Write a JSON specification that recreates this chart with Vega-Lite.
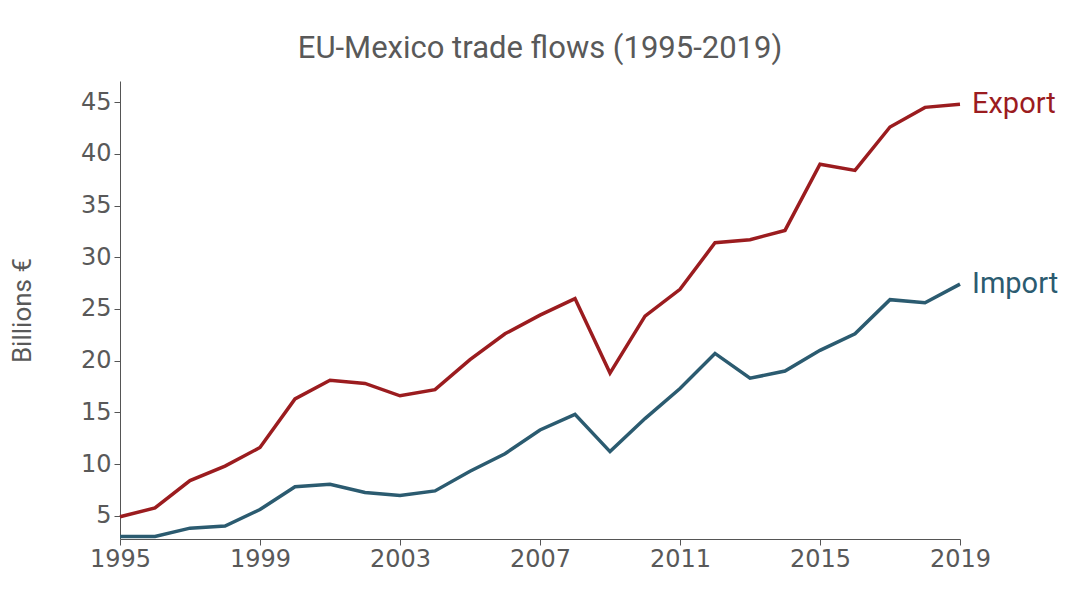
{
  "$schema": "https://vega.github.io/schema/vega-lite/v6.json",
  "autosize": "none",
  "width": 840,
  "height": 458,
  "padding": {"left": 120, "top": 81, "right": 120, "bottom": 62},
  "background": "white",
  "title": {
    "text": "EU-Mexico trade flows (1995-2019)",
    "font": "Roboto",
    "fontSize": 31,
    "fontWeight": "normal",
    "color": "#595959",
    "offset": 16,
    "anchor": "middle"
  },
  "config": {
    "view": {"stroke": null},
    "axis": {
      "labelFont": "DejaVu Sans",
      "labelFontSize": 24,
      "labelColor": "#595959",
      "domainColor": "#555555",
      "tickColor": "#555555",
      "grid": false,
      "titleFont": "Roboto",
      "titleFontSize": 26,
      "titleFontWeight": "normal",
      "titleColor": "#595959"
    }
  },
  "data": {
    "values": [
      {"year": 1995, "flow": "Export", "value": 4.9},
      {"year": 1996, "flow": "Export", "value": 5.75},
      {"year": 1997, "flow": "Export", "value": 8.4},
      {"year": 1998, "flow": "Export", "value": 9.8},
      {"year": 1999, "flow": "Export", "value": 11.6},
      {"year": 2000, "flow": "Export", "value": 16.3},
      {"year": 2001, "flow": "Export", "value": 18.1},
      {"year": 2002, "flow": "Export", "value": 17.8},
      {"year": 2003, "flow": "Export", "value": 16.6},
      {"year": 2004, "flow": "Export", "value": 17.2},
      {"year": 2005, "flow": "Export", "value": 20.1},
      {"year": 2006, "flow": "Export", "value": 22.6},
      {"year": 2007, "flow": "Export", "value": 24.4},
      {"year": 2008, "flow": "Export", "value": 26.0},
      {"year": 2009, "flow": "Export", "value": 18.8},
      {"year": 2010, "flow": "Export", "value": 24.3},
      {"year": 2011, "flow": "Export", "value": 26.9},
      {"year": 2012, "flow": "Export", "value": 31.4},
      {"year": 2013, "flow": "Export", "value": 31.7},
      {"year": 2014, "flow": "Export", "value": 32.6},
      {"year": 2015, "flow": "Export", "value": 39.0},
      {"year": 2016, "flow": "Export", "value": 38.4},
      {"year": 2017, "flow": "Export", "value": 42.6},
      {"year": 2018, "flow": "Export", "value": 44.5},
      {"year": 2019, "flow": "Export", "value": 44.8},
      {"year": 1995, "flow": "Import", "value": 3.0},
      {"year": 1996, "flow": "Import", "value": 3.0},
      {"year": 1997, "flow": "Import", "value": 3.8},
      {"year": 1998, "flow": "Import", "value": 4.0},
      {"year": 1999, "flow": "Import", "value": 5.6},
      {"year": 2000, "flow": "Import", "value": 7.8},
      {"year": 2001, "flow": "Import", "value": 8.05},
      {"year": 2002, "flow": "Import", "value": 7.25},
      {"year": 2003, "flow": "Import", "value": 6.97},
      {"year": 2004, "flow": "Import", "value": 7.4},
      {"year": 2005, "flow": "Import", "value": 9.3},
      {"year": 2006, "flow": "Import", "value": 11.0},
      {"year": 2007, "flow": "Import", "value": 13.3},
      {"year": 2008, "flow": "Import", "value": 14.8},
      {"year": 2009, "flow": "Import", "value": 11.2},
      {"year": 2010, "flow": "Import", "value": 14.4},
      {"year": 2011, "flow": "Import", "value": 17.3},
      {"year": 2012, "flow": "Import", "value": 20.7},
      {"year": 2013, "flow": "Import", "value": 18.3},
      {"year": 2014, "flow": "Import", "value": 19.0},
      {"year": 2015, "flow": "Import", "value": 21.0},
      {"year": 2016, "flow": "Import", "value": 22.6},
      {"year": 2017, "flow": "Import", "value": 25.9},
      {"year": 2018, "flow": "Import", "value": 25.6},
      {"year": 2019, "flow": "Import", "value": 27.4}
    ]
  },
  "encoding": {
    "x": {
      "field": "year",
      "type": "quantitative",
      "scale": {"domain": [1995, 2019], "nice": false, "zero": false},
      "axis": {
        "values": [1995, 1999, 2003, 2007, 2011, 2015, 2019],
        "format": "d",
        "title": null,
        "tickSize": 6,
        "labelPadding": 2,
        "labelFlush": false
      }
    },
    "y": {
      "field": "value",
      "type": "quantitative",
      "scale": {"domain": [2.75, 47.05], "nice": false, "zero": false},
      "axis": {
        "values": [5, 10, 15, 20, 25, 30, 35, 40, 45],
        "title": "Billions €",
        "tickSize": 6,
        "labelPadding": 3,
        "titlePadding": 45
      }
    },
    "color": {
      "field": "flow",
      "type": "nominal",
      "scale": {"domain": ["Export", "Import"], "range": ["#9b1c1f", "#2b5b70"]},
      "legend": null
    }
  },
  "layer": [
    {"mark": {"type": "line", "strokeWidth": 3.5, "clip": false}},
    {
      "transform": [{"filter": "datum.year == 2019"}],
      "mark": {"type": "text", "align": "left", "baseline": "middle", "dx": 12, "font": "Roboto", "fontSize": 29},
      "encoding": {"text": {"field": "flow"}}
    }
  ]
}
